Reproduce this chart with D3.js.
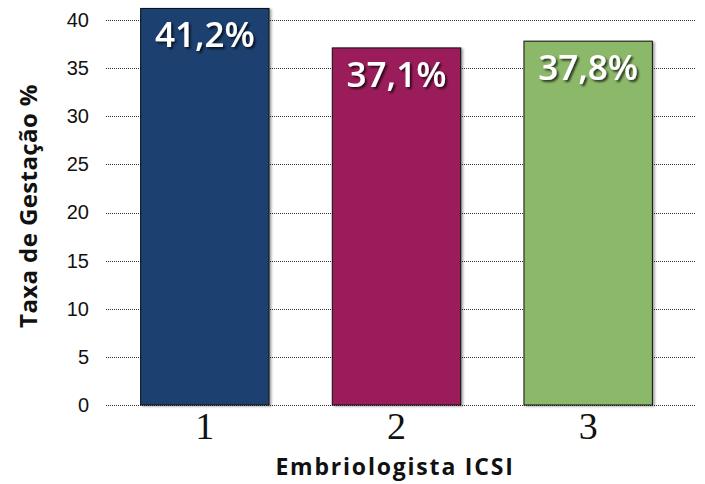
<!DOCTYPE html>
<html>
<head>
<meta charset="utf-8">
<script src="https://cdn.jsdelivr.net/npm/d3@7"></script>
<style>
  html, body { margin: 0; padding: 0; background: #fff; }
  svg { display: block; }
</style>
</head>
<body>
<svg id="chart" width="705" height="484"></svg>
<script>
// Pregnancy rate by ICSI embryologist
const categories = ["1", "2", "3"];
const rates = [41.2, 37.1, 37.8];
const rateLabels = ["41,2%", "37,1%", "37,8%"];
const barColors = ["#1b3f6f", "#9a1c5a", "#8cb86b"];
const yTicks = [0, 5, 10, 15, 20, 25, 30, 35, 40];

const svg = d3.select("#chart");

const x = d3.scaleBand()
  .domain(categories)
  .range([109, 684])
  .paddingInner(0.33)
  .paddingOuter(0.165);

const y = d3.scaleLinear()
  .domain([0, 40])
  .range([405, 20]);

// soft shadow for bars and value labels
const defs = svg.append("defs");
const barShadow = defs.append("filter").attr("id", "barShadow")
  .attr("x", "-10%").attr("y", "-10%").attr("width", "130%").attr("height", "130%");
barShadow.append("feDropShadow")
  .attr("dx", 2).attr("dy", 1).attr("stdDeviation", 0.8)
  .attr("flood-color", "#000").attr("flood-opacity", 0.35);

const textShadow = defs.append("filter").attr("id", "textShadow")
  .attr("x", "-20%").attr("y", "-20%").attr("width", "150%").attr("height", "150%");
textShadow.append("feDropShadow")
  .attr("dx", 2).attr("dy", 2).attr("stdDeviation", 1)
  .attr("flood-color", "#000").attr("flood-opacity", 0.7);

// horizontal dotted gridlines
svg.append("g")
  .selectAll("line")
  .data(yTicks)
  .join("line")
  .attr("x1", 106)
  .attr("x2", 696)
  .attr("y1", d => Math.round(y(d)) + 0.5)
  .attr("y2", d => Math.round(y(d)) + 0.5)
  .attr("stroke", "#333")
  .attr("stroke-width", 1)
  .attr("stroke-dasharray", "1,1");

// y axis tick labels
const yAxis = d3.axisLeft(y).tickValues(yTicks).tickSize(0).tickPadding(0);
const yg = svg.append("g")
  .attr("transform", "translate(89,0)")
  .call(yAxis);
yg.select(".domain").remove();
yg.selectAll("text")
  .attr("font-family", "'Liberation Sans', Arial, sans-serif")
  .attr("font-size", 20)
  .attr("fill", "#111");

// bars
svg.append("g")
  .selectAll("rect")
  .data(rates)
  .join("rect")
  .attr("x", (d, i) => x(categories[i]))
  .attr("y", d => y(d))
  .attr("width", x.bandwidth())
  .attr("height", d => y(0) - y(d))
  .attr("fill", (d, i) => barColors[i])
  .attr("stroke", "#111")
  .attr("stroke-width", 1)
  .attr("filter", "url(#barShadow)");

// value labels inside bars
svg.append("g")
  .selectAll("text")
  .data(rates)
  .join("text")
  .attr("x", (d, i) => x(categories[i]) + x.bandwidth() / 2)
  .attr("y", d => y(d) + 39)
  .attr("text-anchor", "middle")
  .attr("font-family", "'Open Sans', 'DejaVu Sans', sans-serif")
  .attr("font-weight", 600)
  .attr("font-size", 35)
  .attr("fill", "#fff")
  .attr("filter", "url(#textShadow)")
  .text((d, i) => rateLabels[i]);

// category axis
const xAxis = d3.axisBottom(x).tickSize(0).tickPadding(0);
const xg = svg.append("g")
  .attr("transform", "translate(0,412)")
  .call(xAxis);
xg.select(".domain").remove();
xg.selectAll("text")
  .attr("font-family", "'Liberation Serif', 'Times New Roman', serif")
  .attr("font-size", 38)
  .attr("fill", "#111");

// axis titles
svg.append("text")
  .attr("x", 395)
  .attr("y", 475)
  .attr("text-anchor", "middle")
  .attr("font-family", "'Open Sans', 'DejaVu Sans', sans-serif")
  .attr("font-weight", 700)
  .attr("font-size", 23)
  .attr("letter-spacing", 1.8)
  .attr("fill", "#111")
  .text("Embriologista ICSI");

svg.append("text")
  .attr("transform", "translate(37,206) rotate(-90)")
  .attr("text-anchor", "middle")
  .attr("font-family", "'Open Sans', 'DejaVu Sans', sans-serif")
  .attr("font-weight", 700)
  .attr("font-size", 24)
  .attr("letter-spacing", 0.4)
  .attr("fill", "#111")
  .text("Taxa de Gestação %");
</script>
</body>
</html>
